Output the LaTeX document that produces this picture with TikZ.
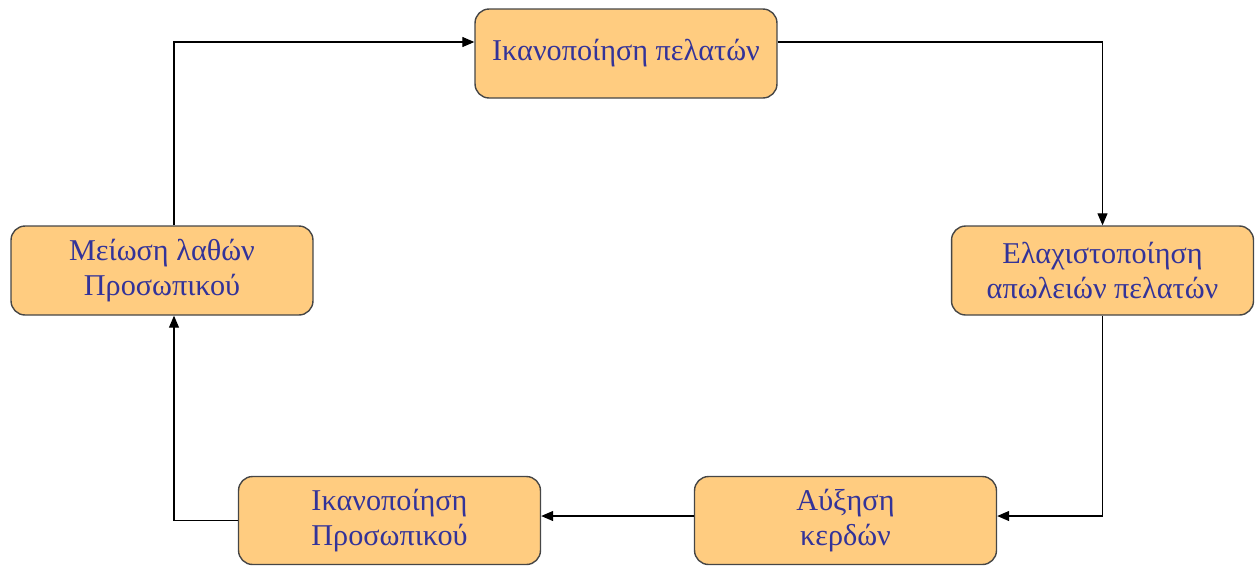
\documentclass[tikz,border=0pt]{standalone}
\usepackage{fontspec}
\setmainfont{Liberation Serif}
\usetikzlibrary{arrows.meta}
\definecolor{boxfill}{RGB}{255,204,128}
\definecolor{boxtext}{RGB}{51,51,153}
\definecolor{boxline}{RGB}{70,70,70}
\begin{document}
\begin{tikzpicture}[x=0.02cm, y=-0.02cm,
	box/.style={draw=boxline, fill=boxfill, rounded corners=8pt, line width=0.8pt, minimum width=6.04cm, minimum height=1.78cm, align=center, text=boxtext, font=\fontsize{17.2}{20}\selectfont},
	arr/.style={-{Triangle[length=0.24cm, width=0.2cm]}, line width=0.65pt}]
		\useasboundingbox (0,0) rectangle (1256,566);

		\node[box] (top) at (626,53.5) {Ικανοποίηση πελατών};
		\node[box] (right) at (1102.5,270.5) {Ελαχιστοποίηση\\απωλειών πελατών};
		\node[box, minimum height=1.76cm] (br) at (845.5,520.5) {Αύξηση\\κερδών};
		\node[box, minimum height=1.76cm] (bl) at (389.5,520.5) {Ικανοποίηση\\Προσωπικού};
		\node[box] (left) at (162,270.5) {Μείωση λαθών\\Προσωπικού};

		\draw[arr] ([yshift=0.23cm]top.east) -| (right.north);
		\draw[arr] (right.south) |- ([yshift=0.09cm]br.east);
		\draw[arr] ([yshift=0.09cm]br.west) -- ([yshift=0.09cm]bl.east);
		\draw[arr] (bl.west) -| ([xshift=0.24cm]left.south);
		\draw[arr] ([xshift=0.24cm]left.north) |- ([yshift=0.23cm]top.west);
	\end{tikzpicture}
\end{document}
